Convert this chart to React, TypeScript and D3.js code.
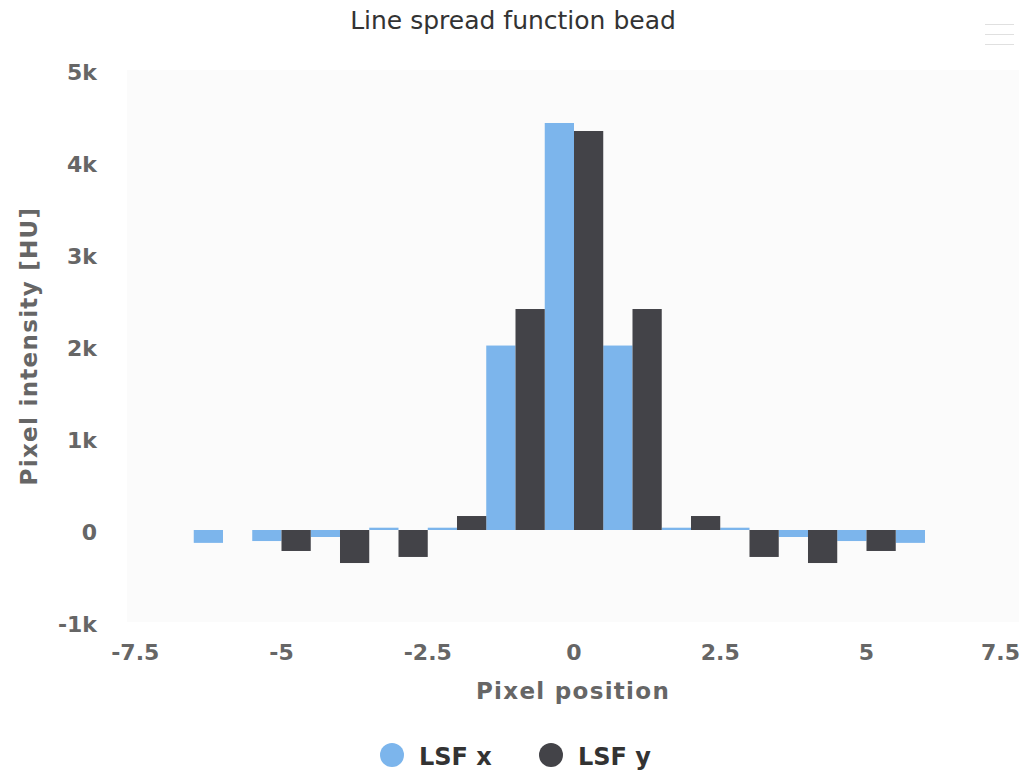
import { useEffect, useRef } from 'react'
import * as d3 from 'd3'

const WIDTH = 1026
const HEIGHT = 775
const PLOT = { left: 127, right: 1019, top: 70, bottom: 622 }

// pixel positions (bar groups, one unit wide)
const positions = [-6, -5, -4, -3, -2, -1, 0, 1, 2, 3, 4, 5, 6]
const lsfX = [-140, -120, -76, 25, 25, 2005, 4424, 2005, 25, 25, -76, -120, -140]
const lsfY = [0, -228, -359, -293, 152, 2402, 4337, 2402, 152, -293, -359, -228, 0]

const xTicks = [-7.5, -5, -2.5, 0, 2.5, 5, 7.5]
const yTicks = [-1000, 0, 1000, 2000, 3000, 4000, 5000]

const SERIES = [
  { name: 'LSF x', values: lsfX, color: '#7cb5ec', offset: -0.5 },
  { name: 'LSF y', values: lsfY, color: '#434348', offset: 0 },
]

const FONT = '"DejaVu Sans", Verdana, sans-serif'

function fmtK(v: number) {
  return v === 0 ? '0' : `${v / 1000}k`
}

export default function App() {
  const svgRef = useRef<SVGSVGElement>(null)

  useEffect(() => {
    document.body.style.margin = '0'
    if (!svgRef.current) return

    // zero sits a touch right of the plot centre, ~58.5px per unit
    const x = d3.scaleLinear().domain([-7.641, 7.607]).range([PLOT.left, PLOT.right])
    const y = d3.scaleLinear().domain([-1000, 5000]).range([PLOT.bottom, PLOT.top])

    const svg = d3.select(svgRef.current)
    svg.selectAll('*').remove()

    svg.append('rect').attr('width', WIDTH).attr('height', HEIGHT).attr('fill', '#ffffff')

    // plot background
    svg.append('rect')
      .attr('x', PLOT.left)
      .attr('y', PLOT.top)
      .attr('width', PLOT.right - PLOT.left)
      .attr('height', PLOT.bottom - PLOT.top)
      .attr('fill', '#fbfbfb')

    // title
    svg.append('text')
      .attr('x', WIDTH / 2)
      .attr('y', 29)
      .attr('text-anchor', 'middle')
      .attr('font-family', FONT)
      .attr('font-size', 25)
      .attr('fill', '#333333')
      .text('Line spread function bead')

    // menu icon
    ;[24, 34, 44].forEach((yy) => {
      svg.append('line')
        .attr('x1', 985).attr('x2', 1014)
        .attr('y1', yy + 0.5).attr('y2', yy + 0.5)
        .attr('stroke', '#e0e0e0')
        .attr('stroke-width', 1)
    })

    // bars
    SERIES.forEach((s) => {
      svg.append('g')
        .selectAll('rect')
        .data(positions.map((p, i) => ({ p, v: s.values[i] })))
        .join('rect')
        .attr('x', (d) => x(d.p + s.offset))
        .attr('width', (d) => x(d.p + s.offset + 0.5) - x(d.p + s.offset))
        .attr('y', (d) => y(Math.max(0, d.v)))
        .attr('height', (d) => Math.abs(y(d.v) - y(0)))
        .attr('fill', s.color)
    })

    // y axis labels
    svg.append('g')
      .selectAll('text')
      .data(yTicks)
      .join('text')
      .attr('x', 97)
      .attr('y', (d) => y(d) + 10)
      .attr('text-anchor', 'end')
      .attr('font-family', FONT)
      .attr('font-weight', 'bold')
      .attr('font-size', 22)
      .attr('fill', '#666666')
      .text((d) => fmtK(d))

    // x axis labels (last one kept inside the chart)
    svg.append('g')
      .selectAll('text')
      .data(xTicks)
      .join('text')
      .attr('x', (d) => (x(d) + 24 > WIDTH - 6 ? WIDTH - 6 : x(d)))
      .attr('y', 660)
      .attr('text-anchor', (d) => (x(d) + 24 > WIDTH - 6 ? 'end' : 'middle'))
      .attr('font-family', FONT)
      .attr('font-weight', 'bold')
      .attr('font-size', 22)
      .attr('fill', '#666666')
      .text((d) => String(d))

    // axis titles
    svg.append('text')
      .attr('x', (PLOT.left + PLOT.right) / 2)
      .attr('y', 699)
      .attr('text-anchor', 'middle')
      .attr('font-family', FONT)
      .attr('font-weight', 'bold')
      .attr('font-size', 23)
      .attr('letter-spacing', 1.3)
      .attr('fill', '#666666')
      .text('Pixel position')

    svg.append('text')
      .attr('transform', `translate(37, ${(PLOT.top + PLOT.bottom) / 2}) rotate(-90)`)
      .attr('text-anchor', 'middle')
      .attr('font-family', FONT)
      .attr('font-weight', 'bold')
      .attr('font-size', 23)
      .attr('letter-spacing', 1.3)
      .attr('fill', '#666666')
      .text('Pixel intensity [HU]')

    // legend
    const legendX = [392, 551]
    SERIES.forEach((s, i) => {
      svg.append('circle')
        .attr('cx', legendX[i])
        .attr('cy', 755)
        .attr('r', 12)
        .attr('fill', s.color)
      svg.append('text')
        .attr('x', legendX[i] + 27)
        .attr('y', 765)
        .attr('font-family', FONT)
        .attr('font-weight', 'bold')
        .attr('font-size', 24)
        .attr('fill', '#333333')
        .text(s.name)
    })
  }, [])

  return <svg ref={svgRef} width={WIDTH} height={HEIGHT} style={{ display: 'block' }} />
}
